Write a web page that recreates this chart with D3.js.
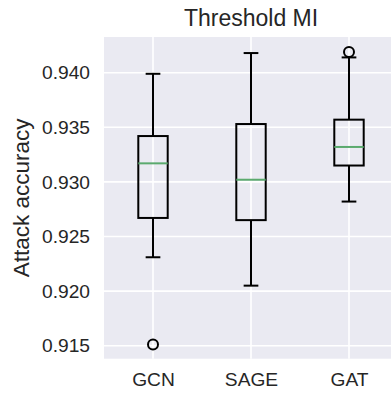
<!DOCTYPE html>
<html>
<head>
<meta charset="utf-8">
<style>
  *{margin:0;padding:0}
  body{background:#fff;width:391px;height:395px;overflow:hidden}
  svg{display:block;font-family:"Liberation Sans",Arial,sans-serif}
</style>
</head>
<body>
<svg id="chart"></svg>
<script src="https://cdn.jsdelivr.net/npm/d3@7/dist/d3.min.js"></script>
<script>
// box summaries
const categories = ['GCN', 'SAGE', 'GAT'];
const whiskerLow  = [0.9231, 0.9205, 0.9282];
const q1          = [0.9267, 0.9265, 0.9315];
const medians     = [0.9317, 0.9302, 0.9332];
const q3          = [0.9342, 0.9353, 0.9357];
const whiskerHigh = [0.9399, 0.9418, 0.9414];
const outliers    = [[0.9151], [], [0.9419]];
const yTicks = [0.915, 0.920, 0.925, 0.930, 0.935, 0.940];

const W = 391, H = 395;
const pL = 104, pT = 37, pB = 358.7, pR = 398;

const svg = d3.select('#chart').attr('width', W).attr('height', H);

const x = d3.scaleLinear().domain([0.5, 3.5]).range([pL, pR]);
const y = d3.scaleLinear().domain([0.91381, 0.94327]).range([pB, pT]);

// plot background
svg.append('rect')
  .attr('x', pL).attr('y', pT)
  .attr('width', pR - pL).attr('height', pB - pT)
  .attr('fill', '#EAEAF2');

// grid
const grid = svg.append('g');
grid.selectAll('.gy').data(yTicks).enter().append('line')
  .attr('x1', pL).attr('x2', pR)
  .attr('y1', d => y(d)).attr('y2', d => y(d))
  .attr('stroke', '#fff').attr('stroke-width', 1.6);
grid.selectAll('.gx').data(categories).enter().append('line')
  .attr('x1', (d, i) => x(i + 1)).attr('x2', (d, i) => x(i + 1))
  .attr('y1', pT).attr('y2', pB)
  .attr('stroke', '#fff').attr('stroke-width', 1.6);

// axes (labels only, no spines or tick marks)
const yAxis = svg.append('g')
  .attr('transform', `translate(${pL},0)`)
  .call(d3.axisLeft(y).tickValues(yTicks).tickFormat(d3.format('.3f')).tickSize(0).tickPadding(14));
yAxis.select('.domain').remove();
yAxis.selectAll('text').attr('font-size', 19.2).attr('fill', '#262626')
  .attr('font-family', '"Liberation Sans",Arial,sans-serif');

const xAxis = svg.append('g')
  .attr('transform', `translate(0,${pB})`)
  .call(d3.axisBottom(x).tickValues([1, 2, 3]).tickFormat(d => categories[d - 1]).tickSize(0).tickPadding(14));
xAxis.select('.domain').remove();
xAxis.selectAll('text').attr('font-size', 19.2).attr('fill', '#262626')
  .attr('font-family', '"Liberation Sans",Arial,sans-serif');

// boxes
const bw = 0.3, cw = 0.15;
const boxes = svg.append('g').attr('fill', 'none').attr('stroke', '#000').attr('stroke-width', 2);
categories.forEach((c, i) => {
  const p = i + 1;
  const g = boxes.append('g');
  // whiskers
  g.append('line').attr('x1', x(p)).attr('x2', x(p)).attr('y1', y(q3[i])).attr('y2', y(whiskerHigh[i]));
  g.append('line').attr('x1', x(p)).attr('x2', x(p)).attr('y1', y(q1[i])).attr('y2', y(whiskerLow[i]));
  // caps
  g.append('line').attr('x1', x(p - cw / 2)).attr('x2', x(p + cw / 2)).attr('y1', y(whiskerHigh[i])).attr('y2', y(whiskerHigh[i]));
  g.append('line').attr('x1', x(p - cw / 2)).attr('x2', x(p + cw / 2)).attr('y1', y(whiskerLow[i])).attr('y2', y(whiskerLow[i]));
  // box
  g.append('rect')
    .attr('x', x(p - bw / 2)).attr('y', y(q3[i]))
    .attr('width', x(p + bw / 2) - x(p - bw / 2)).attr('height', y(q1[i]) - y(q3[i]));
  // median
  g.append('line').attr('x1', x(p - bw / 2)).attr('x2', x(p + bw / 2))
    .attr('y1', y(medians[i])).attr('y2', y(medians[i]))
    .attr('stroke', '#5BAA6E');
  // fliers
  g.selectAll('circle').data(outliers[i]).enter().append('circle')
    .attr('cx', x(p)).attr('cy', d => y(d)).attr('r', 5);
});

// title and y label
svg.append('text')
  .attr('x', (pL + pR) / 2).attr('y', 26)
  .attr('text-anchor', 'middle').attr('font-size', 23).attr('fill', '#262626')
  .text('Threshold MI');

svg.append('text')
  .attr('transform', `translate(29,${(pT + pB) / 2}) rotate(-90)`)
  .attr('text-anchor', 'middle').attr('font-size', 22.5).attr('fill', '#262626')
  .text('Attack accuracy');
</script>
</body>
</html>
